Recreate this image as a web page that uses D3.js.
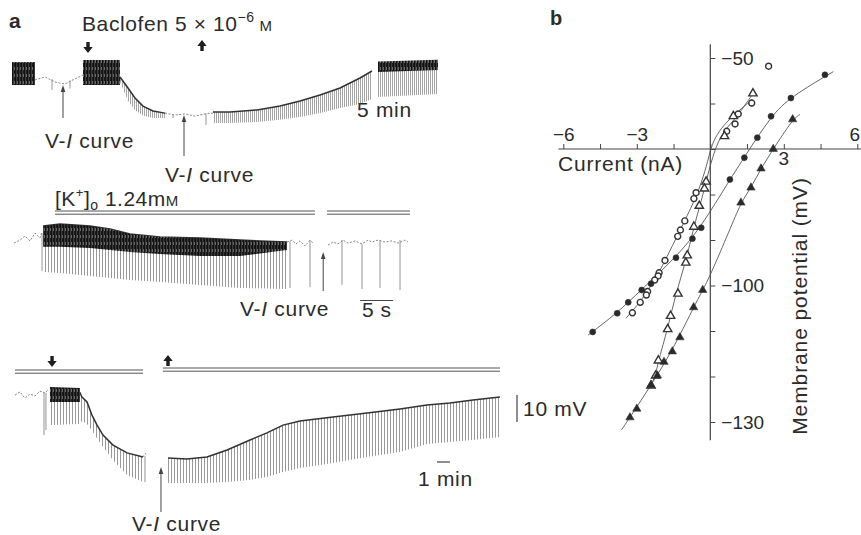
<!DOCTYPE html>
<html>
<head>
<meta charset="utf-8">
<script src="https://cdn.jsdelivr.net/npm/d3@7"></script>
<style>
  body { margin: 0; background: #fff; }
  text { font-family: "Liberation Sans", Arial, Helvetica, sans-serif; fill: #2b2b2b; }
</style>
</head>
<body>
<div id="chart"></div>
<script>
// ---------- panel a : membrane potential traces ----------
// rows are [time, trace top (mV), pulse tip (mV)] or [time, band high, band low]
// top trace, time in min
var topNoise = [
  [[0, -56.7, -65.2], [2.3, -56.7, -65.2]],
  [[7.1, -55.9, -65.2], [10.8, -55.9, -65.2]],
  [[36.6, -56.5, -60.4], [42.6, -55.8, -59.6]]
];
var topPulses = [
  [[10.8, -62.2, -64], [11.6, -66.3, -71], [12.3, -70, -74.5], [13.1, -73, -76.5], [14.1, -74.8, -77.4], [15.3, -75.6, -77.4]],
  [[20.1, -75.2, -79.3], [21.8, -75.2, -79.3], [24.5, -74.4, -78.9], [26.8, -73, -78.1], [28.8, -71.1, -77],
   [30.8, -68.9, -75.6], [32.8, -66.3, -73.7], [34.8, -62.6, -72.2], [36.0, -60, -70.4]],
  [[36.6, -58.1, -69.6], [42.6, -57.4, -68.5]]
];
var topSparse = [
  [[2.3, -63.3], [3.3, -62.2], [4.3, -64.1], [5.3, -64.8], [6.3, -62.9], [7.1, -61.5]],
  [[15.3, -75.6], [16.3, -76.3], [17.3, -75.9], [18.3, -76.7], [19.3, -75.9], [20.1, -75.6]]
];
var topDips = [[4.0, -63, -67], [5.8, -63.5, -66.5], [16.1, -76, -77.4], [19.4, -75.8, -80]];

// middle trace, time in s
var midNoise = [
  [[4.55, -55.4, -63.1], [7.12, -54.6, -63.1], [11.67, -55.4, -63.5], [14.7, -56.5, -64.3], [17.73, -58.3, -65],
   [22.27, -59.4, -65.7], [28.33, -59.8, -66.5], [34.39, -60.6, -66.5], [41.52, -61.3, -64.3]]
];
var midPulses = [
  [[4.55, -55.4, -72.4], [7.12, -54.6, -72.8], [11.67, -55.4, -73.9], [14.7, -56.5, -74.6], [17.73, -58.3, -75.4],
   [22.27, -59.4, -76.1], [28.33, -59.8, -77.2], [34.39, -60.6, -78.3], [41.52, -61.3, -78.7]]
];
var midSparse = [
  [[0.15, -61.7], [1.06, -60.6], [1.82, -59.1], [2.58, -60.9], [3.33, -58], [4.09, -59.8], [4.39, -57.6]],
  [[41.52, -61.3], [42.27, -60.6], [42.88, -62], [43.48, -60.9], [44.24, -62.8], [45, -60.6], [45.45, -61.7]],
  [[47.73, -62.4], [48.48, -61.3], [49.24, -62], [50, -60.6], [50.76, -61.7], [51.82, -60.9], [52.88, -62], [53.79, -60.6],
   [54.39, -61.3], [55.3, -60.6], [56.36, -61.3], [57.42, -60.9], [58.33, -61.7], [59.39, -60.6], [59.85, -61.3]]
];
var midDips = [[4.4, -58, -72], [41.97, -61, -78.3], [45, -60.6, -78], [49.85, -60.6, -77.2],
               [52.88, -62, -78.7], [55.61, -60.6, -78.3], [58.64, -60.6, -79.1]];

// bottom trace, time in min
var botNoise = [[[2.69, -53.9, -59.4], [5.0, -54.3, -59.4]]];
var botPulses = [
  [[2.69, -56, -68], [5.0, -56, -67.6], [5.15, -57.6, -66.5], [5.54, -59.4, -67.6], [5.92, -64.3, -70], [6.31, -68, -73],
   [6.77, -71.7, -76], [7.54, -75.4, -81], [8.62, -78.3, -86.5], [9.85, -79.8, -89.1]],
  [[11.77, -80.2, -89.4], [13.23, -80.6, -89.4], [14.77, -79.8, -89.4], [16.31, -77.2, -89.1], [18.08, -73.5, -88.3],
   [19.38, -70.9, -87.2], [20.62, -68, -85.4], [21.92, -66.5, -83.9], [24.46, -65, -82], [27.08, -63.5, -79.8],
   [29.62, -62, -78], [31.69, -60.6, -75], [33.46, -59.8, -74.3], [35.23, -58.7, -73.5], [37.31, -57.6, -72.4]]
];
var botSparse = [
  [[0, -56.9], [0.38, -55.7], [0.77, -58], [1.15, -56.5], [1.54, -57.2], [1.92, -55.4], [2.31, -56.1], [2.54, -55]],
  [[9.85, -79.8], [10.0, -78.5], [10.12, -79]]
];
var botDips = [[2.23, -56.1, -71.7], [2.38, -56, -69.8], [10.0, -79.5, -89.1]];

// annotations (times on each trace)
var topViArrows = [5.1, 17.2];
var topDrug = [7.6, 19.0];          // down / up arrows
var midViArrow = 47.0;
var midKBars = [[6.36, 45.76], [47.58, 60.15]];
var botViArrow = 11.23;
var botDrug = [2.85, 11.77];
var botBars = [[0, 9.85], [11.38, 37.31]];

// ---------- panel b : V-I curves (current nA, potential mV) ----------
var openCircleI = [2.38, 1.69, 1.14, 1.01, 0.67, -0.58, -0.67, -1.04, -1.22, -1.33, -1.85, -2.09, -2.13, -2.27, -2.56, -2.61, -2.86, -3.18];
var openCircleV = [-51.8, -59.9, -62.3, -64.5, -66.1, -79.6, -80.9, -85.8, -87.8, -89.2, -94.5, -97.2, -97.9, -98.8, -101.3, -102.1, -103.7, -106];
var openTriI = [1.74, 0.94, 0.58, -0.17, -0.24, -0.45, -0.67, -0.94, -1.0, -1.32, -1.62, -1.74, -2.12, -2.23, -2.42];
var openTriV = [-57.8, -62.8, -67.2, -77.2, -78.7, -82.5, -87.1, -93.4, -95, -101.8, -106.7, -109.6, -116.5, -119.8, -122];
var fillCircleI = [4.68, 3.29, 2.48, 1.92, 1.39, 0.80, -0.37, -0.73, -1.4, -2.42, -2.8, -3.35, -3.8, -4.8];
var fillCircleV = [-53.7, -58.8, -62.8, -67.5, -71.9, -76.7, -87.3, -89.7, -93.9, -99.6, -101, -103.7, -106.1, -110.2];
var fillTriI = [3.36, 2.57, 2.07, 1.66, 1.25, -0.31, -0.68, -1.24, -1.55, -1.89, -2.16, -2.42, -3.0, -3.28];
var fillTriV = [-63.5, -70, -74.3, -78.5, -81.8, -101, -104.8, -111.4, -114.5, -116.8, -119.8, -121.9, -127.1, -129];

// hand-drawn fitted curves
var ocFitI = [1.7, 1.13, 0.67, 0.26, 0.02, -0.15, -0.42, -0.62, -1.24, -1.86, -2.26, -2.87, -3.44];
var ocFitV = [-59.1, -61.8, -64, -66.8, -69.7, -73.8, -78.2, -81.1, -87.9, -94.7, -98.8, -103.7, -107.2];
var otFitI = [1.76, 1.01, 0.6, 0.33, 0.1, -0.15, -0.35, -0.67, -1.0, -1.41, -1.74, -2.12, -2.23, -2.49];
var otFitV = [-57.7, -63.5, -65.7, -68.3, -71.6, -76.7, -81.1, -87, -94.9, -101.7, -109.6, -116.5, -119.8, -122.7];
var fcFitI = [5.02, 3.29, 2.48, 1.38, 0.80, -0.38, -1.4, -2.83, -3.81, -4.99];
var fcFitV = [-53, -58.5, -62.7, -71.9, -76.7, -87.2, -93.8, -101, -106.1, -110.9];
var ftFitI = [3.66, 3.36, 2.57, 2.07, 1.66, 1.25, 0.8, -0.01, -0.31, -0.68, -1.56, -2.42, -3.28, -3.62];
var ftFitV = [-62.4, -63.5, -70, -74.3, -78.5, -81.8, -87.7, -97.9, -101, -104.8, -114.4, -121.9, -129, -131.7];

var xTicks = [-6, -4.5, -3, -1.5, 0, 1.5, 3, 4.5, 6];
var xTickLabels = {"-6": "\u22126", "-3": "\u22123"};
var yTicks = [-50, -60, -70, -80, -90, -100, -110, -120, -130];
var yTickLabels = {"-50": "\u221250", "-100": "\u2212100", "-130": "\u2212130"};

// ---------- drawing ----------
var width = 861, height = 535;
var svg = d3.select("#chart").append("svg")
    .attr("width", width)
    .attr("height", height);

var defs = svg.append("defs");
function stripes(id, step, color) {
  defs.append("pattern")
      .attr("id", id)
      .attr("patternUnits", "userSpaceOnUse")
      .attr("width", step)
      .attr("height", 4)
    .append("rect").attr("width", 1).attr("height", 4).attr("fill", color);
}
stripes("pTop", 2, "#a4a4a4");
stripes("pMid", 3, "#999");
stripes("pBot", 3, "#999");

// textured dark band for the fast noisy stretches
var nd = defs.append("pattern").attr("id", "nDark").attr("patternUnits", "userSpaceOnUse")
    .attr("width", 3).attr("height", 7);
nd.append("rect").attr("width", 3).attr("height", 7).attr("fill", "#3c3c3c");
nd.append("rect").attr("width", 1).attr("height", 7).attr("fill", "#111");
nd.append("rect").attr("x", 2).attr("width", 1).attr("height", 4).attr("fill", "#1c1c1c");
nd.append("rect").attr("x", 2).attr("y", 4).attr("width", 1).attr("height", 3).attr("fill", "#6a6a6a");

var ink = "#333";

function drawTrace(x, y, noise, pulses, sparse, dips, pat) {
  var g = svg.append("g");
  var area = d3.area()
      .x(function(d) { return x(d[0]); })
      .y0(function(d) { return y(d[2]); })
      .y1(function(d) { return y(d[1]); });
  var top = d3.line()
      .x(function(d) { return x(d[0]); })
      .y(function(d) { return y(d[1]); });

  g.selectAll(".pulse").data(pulses).enter().append("path")
      .attr("d", area).attr("fill", "url(#" + pat + ")");
  g.selectAll(".edge").data(pulses).enter().append("path")
      .attr("d", top).attr("fill", "none").attr("stroke", ink).attr("stroke-width", 1.5);
  g.selectAll(".noise").data(noise).enter().append("path")
      .attr("d", area).attr("fill", "url(#nDark)");
  g.selectAll(".sparse").data(sparse).enter().append("path")
      .attr("d", top).attr("fill", "none")
      .attr("stroke", "#777").attr("stroke-width", 0.9).attr("stroke-dasharray", "2,1.6");
  g.selectAll(".dip").data(dips).enter().append("line")
      .attr("x1", function(d) { return x(d[0]); })
      .attr("x2", function(d) { return x(d[0]); })
      .attr("y1", function(d) { return y(d[1]); })
      .attr("y2", function(d) { return y(d[2]); })
      .attr("stroke", "#888").attr("stroke-width", 0.9);
}

function viArrow(xp, tip, end) {
  svg.append("line").attr("x1", xp).attr("x2", xp).attr("y1", tip + 3).attr("y2", end)
      .attr("stroke", "#444").attr("stroke-width", 1);
  svg.append("path")
      .attr("d", "M" + xp + "," + tip + "L" + (xp - 2.3) + "," + (tip + 7) + "L" + (xp + 2.3) + "," + (tip + 7) + "Z")
      .attr("fill", "#444");
}
// thick drug arrow, 11 px tall
function drugArrow(xp, yTop, down) {
  var path = down
    ? "M" + (xp - 1.7) + "," + yTop + "h3.4v5h3L" + xp + "," + (yTop + 11) + "L" + (xp - 4.7) + "," + (yTop + 5) + "h3Z"
    : "M" + (xp - 1.7) + "," + (yTop + 11) + "h3.4v-5h3L" + xp + "," + yTop + "L" + (xp - 4.7) + "," + (yTop + 6) + "h3Z";
  svg.append("path").attr("d", path).attr("fill", "#1e1e1e");
}
function doubleBar(x1, x2, yp) {
  [0, 3.2].forEach(function(o) {
    svg.append("line").attr("x1", x1).attr("x2", x2).attr("y1", yp + o).attr("y2", yp + o)
        .attr("stroke", "#555").attr("stroke-width", 1);
  });
}
function viLabel(xp, yp) {
  var t = svg.append("text").attr("x", xp).attr("y", yp)
      .attr("font-size", 21).attr("letter-spacing", 0.7);
  t.append("tspan").text("V-");
  t.append("tspan").attr("font-style", "italic").text("I");
  t.append("tspan").text(" curve");
}

// top trace
var xTop = d3.scaleLinear().domain([0, 42.6]).range([12, 438]);
var yTop = d3.scaleLinear().domain([-55, -75]).range([57.5, 111.5]);
drawTrace(xTop, yTop, topNoise, topPulses, topSparse, topDips, "pTop");

svg.append("text").attr("x", 9).attr("y", 28).attr("font-size", 21).attr("font-weight", "bold").text("a");
var bac = svg.append("text").attr("x", 82).attr("y", 31).attr("font-size", 21).attr("letter-spacing", 0.6);
bac.append("tspan").text("Baclofen 5 \u00d7 10");
bac.append("tspan").attr("font-size", 14).attr("dy", -9).text("\u22126");
bac.append("tspan").attr("font-size", 15).attr("dy", 9).text(" M");
drugArrow(xTop(topDrug[0]), 42, true);
drugArrow(xTop(topDrug[1]), 40, false);
viArrow(xTop(topViArrows[0]), 85, 118);
viLabel(45, 148);
viArrow(xTop(topViArrows[1]), 115, 156);
viLabel(165, 182);
svg.append("text").attr("x", 357).attr("y", 117).attr("font-size", 21).attr("letter-spacing", 0.7).text("5 min");

// middle trace
var xMid = d3.scaleLinear().domain([0, 60]).range([13, 409]);
var yMid = d3.scaleLinear().domain([-55, -75]).range([225, 279]);
drawTrace(xMid, yMid, midNoise, midPulses, midSparse, midDips, "pMid");
var kt = svg.append("text").attr("x", 55).attr("y", 206).attr("font-size", 21).attr("letter-spacing", 0.5);
kt.append("tspan").text("[K");
kt.append("tspan").attr("font-size", 13).attr("dy", -9).text("+");
kt.append("tspan").attr("dy", 9).text("]");
kt.append("tspan").attr("font-size", 14).attr("dy", 4).text("o");
kt.append("tspan").attr("dy", -4).text(" 1.24m");
kt.append("tspan").attr("font-size", 15).text("M");
midKBars.forEach(function(b) { doubleBar(xMid(b[0]), xMid(b[1]), 211); });
viArrow(xMid(midViArrow), 252, 291);
viLabel(240, 316);
svg.append("line").attr("x1", xMid(52.6)).attr("x2", xMid(57.6)).attr("y1", 300.5).attr("y2", 300.5)
    .attr("stroke", "#444").attr("stroke-width", 1.2);
svg.append("text").attr("x", xMid(55.1)).attr("y", 317).attr("text-anchor", "middle")
    .attr("font-size", 21).attr("letter-spacing", 0.5).text("5 s");

// bottom trace
var xBot = d3.scaleLinear().domain([0, 37.31]).range([15, 500]);
var yBot = d3.scaleLinear().domain([-55, -75]).range([390, 444]);
drawTrace(xBot, yBot, botNoise, botPulses, botSparse, botDips, "pBot");
drugArrow(xBot(botDrug[0]), 356, true);
drugArrow(xBot(botDrug[1]), 355, false);
doubleBar(xBot(botBars[0][0]), xBot(botBars[0][1]), 370);
doubleBar(xBot(botBars[1][0]), xBot(botBars[1][1]), 368);
viArrow(xBot(botViArrow), 467, 512);
viLabel(132, 531);
svg.append("line").attr("x1", 517).attr("x2", 517).attr("y1", yBot(-56.85)).attr("y2", yBot(-66.85))
    .attr("stroke", "#444").attr("stroke-width", 1.2);
svg.append("text").attr("x", 523).attr("y", 416).attr("font-size", 21).attr("letter-spacing", 0.7).text("10 mV");
svg.append("line").attr("x1", xBot(32.46)).attr("x2", xBot(33.46)).attr("y1", 462).attr("y2", 462)
    .attr("stroke", "#444").attr("stroke-width", 1.2);
svg.append("text").attr("x", 418).attr("y", 486).attr("font-size", 21).attr("letter-spacing", 0.7).text("1 min");

// ---------- panel b ----------
var xB = d3.scaleLinear().domain([-6, 6]).range([563.3, 857.3]);
var yB = d3.scaleLinear().domain([-50, -130]).range([58, 422]);

svg.append("text").attr("x", 550).attr("y", 25).attr("font-size", 20).attr("font-weight", "bold").text("b");

var xAxis = d3.axisTop(xB).tickValues(xTicks).tickSize(5).tickSizeOuter(0).tickPadding(3)
    .tickFormat(function(d) { return xTickLabels[d] || ""; });
var gx = svg.append("g").attr("transform", "translate(0," + yB(-70) + ")").call(xAxis);
gx.select(".domain").remove();
gx.selectAll("line").attr("stroke", "#444");
gx.selectAll("text").attr("font-size", 19).attr("fill", "#2b2b2b");
gx.attr("font-family", null);
svg.append("line").attr("x1", xB(-6.2)).attr("x2", xB(6.3)).attr("y1", yB(-70)).attr("y2", yB(-70))
    .attr("stroke", "#444").attr("stroke-width", 1.2);
// "3" sits under the axis, "6" is pushed against the right edge
svg.append("text").attr("x", xB(3)).attr("y", 165).attr("text-anchor", "middle").attr("font-size", 19).text("3");
svg.append("text").attr("x", width - 1).attr("y", yB(-70) - 8).attr("text-anchor", "end").attr("font-size", 19).text("6");

var yAxis = d3.axisRight(yB).tickValues(yTicks).tickSize(5).tickSizeOuter(0).tickPadding(6)
    .tickFormat(function(d) { return yTickLabels[d] || ""; });
var gy = svg.append("g").attr("transform", "translate(" + xB(0) + ",0)").call(yAxis);
gy.select(".domain").remove();
gy.selectAll("line").attr("stroke", "#444");
gy.selectAll("text").attr("font-size", 19).attr("fill", "#2b2b2b");
gy.attr("font-family", null);
svg.append("line").attr("x1", xB(0)).attr("x2", xB(0)).attr("y1", yB(-47)).attr("y2", yB(-134))
    .attr("stroke", "#444").attr("stroke-width", 1.2);

svg.append("text").attr("x", 558).attr("y", 171).attr("font-size", 21).attr("letter-spacing", 0.8).text("Current (nA)");
svg.append("text").attr("transform", "translate(807,306) rotate(-90)").attr("text-anchor", "middle")
    .attr("font-size", 21).attr("letter-spacing", 0.9).text("Membrane potential (mV)");

function zipIV(I, V) { return I.map(function(d, i) { return [d, V[i]]; }); }
var fitLine = d3.line()
    .x(function(d) { return xB(d[0]); })
    .y(function(d) { return yB(d[1]); })
    .curve(d3.curveBasis);
[[ocFitI, ocFitV], [otFitI, otFitV], [fcFitI, fcFitV], [ftFitI, ftFitV]].forEach(function(f) {
  svg.append("path").datum(zipIV(f[0], f[1])).attr("d", fitLine)
      .attr("fill", "none").attr("stroke", "#555").attr("stroke-width", 0.9);
});

function markers(I, V, type, filled) {
  var sym = d3.symbol().type(type).size(type === d3.symbolTriangle ? 30 : 28);
  svg.append("g").selectAll("path").data(zipIV(I, V)).enter().append("path")
      .attr("transform", function(d) { return "translate(" + xB(d[0]) + "," + yB(d[1]) + ")"; })
      .attr("d", sym)
      .attr("fill", filled ? "#2a2a2a" : "#fff")
      .attr("stroke", "#333").attr("stroke-width", filled ? 0.6 : 1.4);
}
markers(openCircleI, openCircleV, d3.symbolCircle, false);
markers(openTriI, openTriV, d3.symbolTriangle, false);
markers(fillCircleI, fillCircleV, d3.symbolCircle, true);
markers(fillTriI, fillTriV, d3.symbolTriangle, true);
</script>
</body>
</html>
